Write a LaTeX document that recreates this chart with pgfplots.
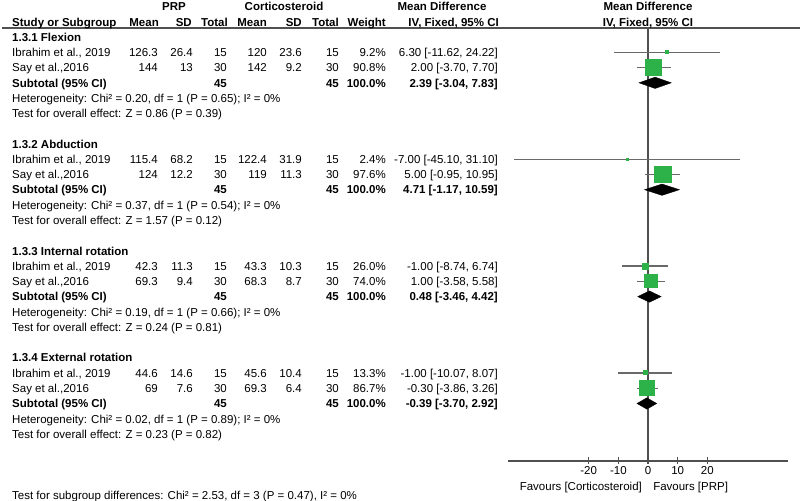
\documentclass[border=0pt]{standalone}
\usepackage{pgfplots}
\pgfplotsset{compat=1.18}
\usepackage{pgfplotstable}
\usepackage{fontspec}
\setmainfont{Liberation Sans}
\definecolor{sqgreen}{RGB}{44,178,72}
\definecolor{ciline}{RGB}{105,105,105}
\definecolor{axline}{RGB}{80,80,80}
\newcommand\fs{\fontsize{11.5bp}{13bp}\selectfont}

% study estimates: row, mean difference, lower, upper, square side (px)
\pgfplotstableread{
r m lo hi s
1 6.30 -11.62 24.22 3
2 2.00 -3.70 7.70 16
8 -7.00 -45.10 31.10 2
9 5.00 -0.95 10.95 16.5
15 -1.00 -8.74 6.74 6
16 1.00 -3.58 5.58 13
22 -1.00 -10.07 8.07 4
23 -0.30 -3.86 3.26 15
}\studies

\newcommand\srow[8]{%
 \node[L] at (12,#1+.28) {#2};
 \node[R] at (158,#1+.28) {#3};
 \node[R] at (193,#1+.28) {#4};
 \node[R] at (227,#1+.28) {#5};
 \node[R] at (267,#1+.28) {#6};
 \node[R] at (302,#1+.28) {#7};
 \node[R] at (339,#1+.28) {#8};}
\newcommand\wrow[3]{%
 \node[R] at (386,#1+.28) {#2};
 \node[R] at (498,#1+.28) {#3};}
\newcommand\group[6]{% base row, title, subtotal MD, chi, P, Z-text
 \node[L,B] at (12,#1+.28) {#2};
 \node[L,B] at (12,#1+3.28) {Subtotal (95\% CI)};
 \node[R,B] at (227,#1+3.28) {45};
 \node[R,B] at (339,#1+3.28) {45};
 \node[R,B] at (386,#1+3.28) {100.0\%};
 \node[R,B] at (498,#1+3.28) {#3};
 \node[L] at (12,#1+4.28) {Heterogeneity: Chi² = #4, df = 1 (P = #5); I² = 0\%};
 \node[L] at (12,#1+5.28) {Test for overall effect: #6};}

\begin{document}
\begin{tikzpicture}[font=\fs,
  L/.style={anchor=base west, inner sep=0pt},
  R/.style={anchor=base east, inner sep=0pt},
  C/.style={anchor=base, inner sep=0pt},
  B/.style={font=\fs\bfseries}]
\begin{axis}[at={(0,0)}, anchor=south west,
  scale only axis, width=800bp, height=501bp,
  xmin=-218.48, xmax=51.25, ymin=-2.4230, ymax=30.3864,
  y dir=reverse, axis lines=none, clip=false]
% zero line
\draw[axline, line width=1.2bp] (axis cs:0,-0.59) -- (axis cs:0,27.77);
% bottom axis
\draw[axline, line width=1.2bp] (axis cs:-47.2,27.77) -- (axis cs:47.2,27.77);
\foreach \t in {-20,-10,0,10,20}{
  \edef\tmp{\noexpand\draw[axline, line width=1.2bp] (axis cs:\t,27.50) -- (axis cs:\t,27.96);
  \noexpand\node[C] at (axis cs:\t,28.68) {\t};}\tmp}
\node[R] at (axis cs:-2.0,29.67) {Favours [Corticosteroid]};
\node[L] at (axis cs:1.7,29.67) {Favours [PRP]};
% confidence intervals
\addplot[draw=none, mark=none, error bars/.cd, x dir=both, x explicit,
  error mark=none, error bar style={ciline, line width=1.2bp}]
  table[x=m, y=r, x error plus expr=\thisrow{hi}-\thisrow{m},
        x error minus expr=\thisrow{m}-\thisrow{lo}] {\studies};
% weight squares
\addplot[only marks, mark=square*, scatter,
  visualization depends on={\thisrow{s}/2 \as \hs},
  scatter/use mapped color={draw=sqgreen, fill=sqgreen},
  scatter/@pre marker code/.append style={/tikz/mark size=\hs},
  mark options={line width=0pt}]
  table[x=m, y=r] {\studies};
% subtotal diamonds
\addplot[fill=black, draw=black] coordinates {(-3.04,3) (2.39,2.63) (7.83,3) (2.39,3.37)} --cycle;
\addplot[fill=black, draw=black] coordinates {(-1.17,10) (4.71,9.63) (10.59,10) (4.71,10.37)} --cycle;
\addplot[fill=black, draw=black] coordinates {(-3.46,17) (0.48,16.63) (4.42,17) (0.48,17.37)} --cycle;
\addplot[fill=black, draw=black] coordinates {(-3.70,24) (-0.39,23.63) (2.92,24) (-0.39,24.37)} --cycle;
\end{axis}
\begin{scope}[shift={(0,464bp)}, x=1bp, y=-15.27bp]
% header rule
\draw[axline, line width=1.2bp] (2,-0.59) -- (800,-0.59);
\begin{scope}[B]
\node[C] at (174,-2+.28) {PRP};
\node[C] at (284,-2+.28) {Corticosteroid};
\node[C] at (442,-2+.28) {Mean Difference};
\node[C] at (648,-2+.28) {Mean Difference};
\node[L] at (12,-1+.28) {Study or Subgroup};
\node[R] at (159,-1+.28) {Mean};
\node[R] at (192,-1+.28) {SD};
\node[R] at (228,-1+.28) {Total};
\node[R] at (267,-1+.28) {Mean};
\node[R] at (302,-1+.28) {SD};
\node[R] at (339,-1+.28) {Total};
\node[R] at (386,-1+.28) {Weight};
\node[R] at (499,-1+.28) {IV, Fixed, 95\% CI};
\node[C] at (648,-1+.28) {IV, Fixed, 95\% CI};
\end{scope}
% Flexion
\group{0}{1.3.1 Flexion}{2.39 [-3.04, 7.83]}{0.20}{0.65}{Z = 0.86 (P = 0.39)}
\srow{1}{Ibrahim et al., 2019}{126.3}{26.4}{15}{120}{23.6}{15}
\wrow{1}{9.2\%}{6.30 [-11.62, 24.22]}
\srow{2}{Say et al.,2016}{144}{13}{30}{142}{9.2}{30}
\wrow{2}{90.8\%}{2.00 [-3.70, 7.70]}
% Abduction
\group{7}{1.3.2 Abduction}{4.71 [-1.17, 10.59]}{0.37}{0.54}{Z = 1.57 (P = 0.12)}
\srow{8}{Ibrahim et al., 2019}{115.4}{68.2}{15}{122.4}{31.9}{15}
\wrow{8}{2.4\%}{-7.00 [-45.10, 31.10]}
\srow{9}{Say et al.,2016}{124}{12.2}{30}{119}{11.3}{30}
\wrow{9}{97.6\%}{5.00 [-0.95, 10.95]}
% Internal rotation
\group{14}{1.3.3 Internal rotation}{0.48 [-3.46, 4.42]}{0.19}{0.66}{Z = 0.24 (P = 0.81)}
\srow{15}{Ibrahim et al., 2019}{42.3}{11.3}{15}{43.3}{10.3}{15}
\wrow{15}{26.0\%}{-1.00 [-8.74, 6.74]}
\srow{16}{Say et al.,2016}{69.3}{9.4}{30}{68.3}{8.7}{30}
\wrow{16}{74.0\%}{1.00 [-3.58, 5.58]}
% External rotation
\group{21}{1.3.4 External rotation}{-0.39 [-3.70, 2.92]}{0.02}{0.89}{Z = 0.23 (P = 0.82)}
\srow{22}{Ibrahim et al., 2019}{44.6}{14.6}{15}{45.6}{10.4}{15}
\wrow{22}{13.3\%}{-1.00 [-10.07, 8.07]}
\srow{23}{Say et al.,2016}{69}{7.6}{30}{69.3}{6.4}{30}
\wrow{23}{86.7\%}{-0.30 [-3.86, 3.26]}
\node[L] at (12,30.3) {Test for subgroup differences: Chi² = 2.53, df = 3 (P = 0.47), I² = 0\%};
\end{scope}
\pgfresetboundingbox
\useasboundingbox (0,0) rectangle (800bp,501bp);
\end{tikzpicture}
\end{document}
